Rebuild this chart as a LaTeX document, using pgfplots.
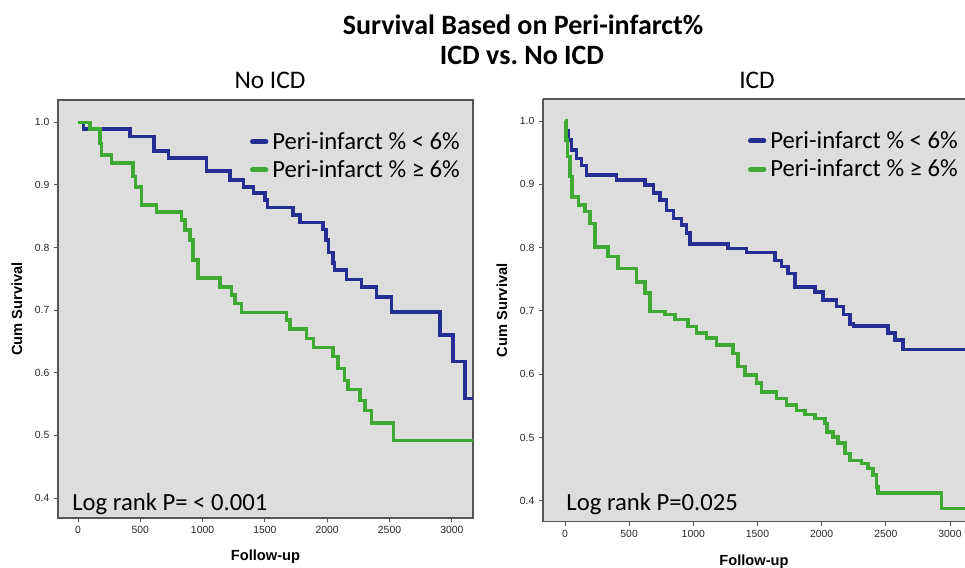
\documentclass[border=0pt]{standalone}
\usepackage{fontspec}
\setmainfont{Liberation Sans}
\newfontfamily\carlito{Carlito}
\usepackage{pgfplots}
\pgfplotsset{compat=1.18}
\definecolor{kmblue}{RGB}{38,46,148}
\definecolor{kmgreen}{RGB}{62,170,52}
\definecolor{bggray}{RGB}{221,221,221}
\definecolor{framegray}{RGB}{85,85,85}

\pgfplotsset{kmstyle/.style={
  scale only axis,
  axis background/.style={fill=bggray},
  axis line style={framegray, line width=1pt},
  tick style={framegray, line width=0.6pt},
  major tick length=3pt,
  tick align=outside,
  xtick pos=bottom, ytick pos=left,
  xtick={0,500,1000,1500,2000,2500,3000},
  ytick={0.4,0.5,0.6,0.7,0.8,0.9,1.0},
  yticklabel style={/pgf/number format/.cd, fixed, fixed zerofill, precision=1},
  xticklabel style={/pgf/number format/set thousands separator={}},
  /pgf/number format/assume math mode=true,
  tick label style={font=\fontsize{7.8}{9}\selectfont, text=black!85},
  label style={font=\bfseries\fontsize{11}{13}\selectfont},
  xlabel={Follow-up}, ylabel={Cum Survival},
  legend style={draw=none, fill=none, inner sep=0pt, font=\carlito\fontsize{18.5}{21}\selectfont, legend cell align=left, row sep=5pt, nodes={inner xsep=3pt, inner ysep=1pt}},
  legend image code/.code={\draw[line width=3.8pt, line cap=round] (1.5pt,0pt) -- (11.5pt,0pt);},
  every axis plot/.append style={line width=2.6pt, no markers, line join=miter},
}}

\begin{document}
\begin{tikzpicture}[x=0.75pt,y=0.75pt]
\path[use as bounding box] (0,0) rectangle (965,568);

\node[font=\carlito\bfseries\fontsize{21}{25}\selectfont] at (523,543) {Survival Based on Peri-infarct\%};
\node[font=\carlito\bfseries\fontsize{21}{25}\selectfont] at (522,513) {ICD vs.\ No ICD};
\node[font=\carlito\fontsize{19}{22}\selectfont] at (270,488) {No ICD};
\node[font=\carlito\fontsize{19}{22}\selectfont] at (757,488) {ICD};

% Left: No ICD
\begin{axis}[kmstyle,
  at={(43.5pt,351pt)}, anchor=north west,
  width=311.25pt, height=313.5pt,
  xmin=-160, xmax=3170, ymin=0.368, ymax=1.0356,
  ylabel style={at={(axis description cs:-0.0988,0.5)}, anchor=center},
  xlabel style={at={(axis description cs:0.5,-0.0933)}, anchor=center},
  legend style={at={(0.462,0.927)}, anchor=north west},
]
\addplot[kmblue, const plot mark left] coordinates {
(0,1.0) (43,0.989) (417,0.977) (610,0.954) (725,0.943) (1030,0.922) (1220,0.908)
(1327,0.897) (1407,0.887) (1500,0.876) (1520,0.864) (1727,0.852) (1782,0.840)
(1966,0.829) (1990,0.812) (2010,0.792) (2047,0.775) (2060,0.764) (2156,0.749)
(2276,0.737) (2396,0.721) (2517,0.697) (2905,0.660) (3011,0.618) (3104,0.559) (3170,0.559)};
\addlegendentry{Peri-infarct \% < 6\%}
\addplot[kmgreen, const plot mark left] coordinates {
(0,1.0) (96,0.989) (177,0.966) (188,0.948) (268,0.935) (443,0.913) (460,0.897)
(509,0.868) (631,0.857) (830,0.844) (860,0.828) (899,0.812) (925,0.780) (965,0.751)
(1140,0.737) (1233,0.724) (1260,0.711) (1313,0.696) (1673,0.684) (1701,0.670)
(1835,0.655) (1889,0.640) (2047,0.626) (2087,0.607) (2141,0.588) (2167,0.573)
(2263,0.556) (2303,0.540) (2356,0.520) (2533,0.492) (3170,0.492)};
\addlegendentry{Peri-infarct \% ≥ 6\%}
\node[anchor=west, font=\carlito\fontsize{18.5}{21}\selectfont, inner sep=0pt] at (rel axis cs:0.034,0.033) {Log rank P= < 0.001};
\end{axis}

% Right: ICD
\begin{axis}[kmstyle,
  at={(407.25pt,351.75pt)}, anchor=north west,
  width=316.5pt, height=317pt,
  axis x line*=box, axis y line*=left,
  xmin=-171, xmax=3117, ymin=0.367, ymax=1.0348,
  ylabel style={at={(axis description cs:-0.0972,0.5)}, anchor=center},
  xlabel style={at={(axis description cs:0.5,-0.0946)}, anchor=center},
  legend style={at={(0.485,0.927)}, anchor=north west},
]
\addplot[kmblue, const plot mark left] coordinates {
(0,1.0) (10,0.985) (26,0.970) (52,0.954) (91,0.941) (130,0.930) (169,0.915)
(403,0.907) (623,0.899) (688,0.886) (740,0.875) (792,0.859) (844,0.846) (909,0.836)
(948,0.823) (973,0.806) (1272,0.799) (1415,0.792) (1636,0.780) (1688,0.770)
(1739,0.759) (1791,0.738) (1947,0.730) (2012,0.717) (2116,0.707) (2170,0.694)
(2220,0.679) (2250,0.676) (2518,0.665) (2570,0.654) (2635,0.639) (3117,0.639)};
\addlegendentry{Peri-infarct \% < 6\%}
\addplot[kmgreen, const plot mark left] coordinates {
(0,1.0) (8,0.970) (18,0.944) (40,0.912) (55,0.880) (104,0.867) (156,0.857)
(195,0.838) (234,0.801) (337,0.786) (415,0.767) (558,0.746) (623,0.728) (662,0.699)
(779,0.694) (857,0.686) (960,0.675) (1026,0.665) (1104,0.657) (1182,0.646)
(1311,0.633) (1350,0.612) (1402,0.599) (1493,0.586) (1532,0.572) (1649,0.562)
(1727,0.551) (1804,0.543) (1869,0.536) (1947,0.530) (2025,0.522) (2040,0.509)
(2090,0.501) (2129,0.491) (2181,0.475) (2220,0.464) (2311,0.459) (2362,0.451)
(2401,0.441) (2427,0.422) (2440,0.412) (2933,0.388) (3117,0.388)};
\addlegendentry{Peri-infarct \% ≥ 6\%}
\node[anchor=west, font=\carlito\fontsize{18.5}{21}\selectfont, inner sep=0pt] at (rel axis cs:0.055,0.041) {Log rank P=0.025};
\end{axis}
\end{tikzpicture}
\end{document}
